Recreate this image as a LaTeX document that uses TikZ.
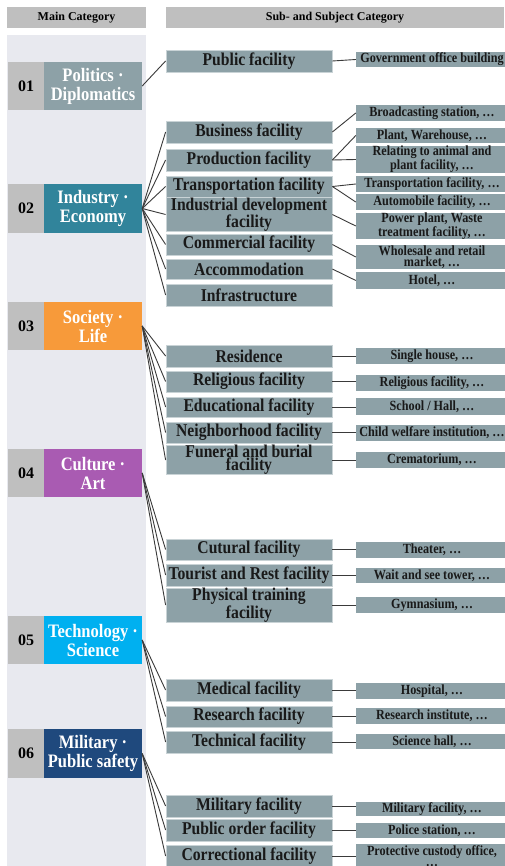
\documentclass[tikz,border=0pt]{standalone}
\usepackage{fontspec}
\setmainfont{Liberation Serif}
\newfontfamily\cmpfont[FakeStretch=0.87]{Liberation Serif}
\definecolor{panelc}{HTML}{E8E9EF}
\definecolor{hdrc}{HTML}{BFBFBF}
\definecolor{boxc}{HTML}{8DA1A7}
\definecolor{edgec}{HTML}{C9D3D6}
\definecolor{linec}{HTML}{3A3A3A}
\definecolor{cpol}{HTML}{8DA1A7}
\definecolor{cind}{HTML}{31849B}
\definecolor{csoc}{HTML}{F79A3A}
\definecolor{ccul}{HTML}{A95BB2}
\definecolor{ctec}{HTML}{00B0F0}
\definecolor{cmil}{HTML}{1F497D}
\tikzset{
  hdr/.style={fill=hdrc, inner sep=0pt, font=\bfseries\fontsize{12}{14}\selectfont},
  numb/.style={fill=hdrc, inner sep=0pt, font=\bfseries\fontsize{16}{18}\selectfont},
  mainc/.style={inner sep=0pt, text=white, align=center, font=\cmpfont\bfseries\fontsize{19}{19}\selectfont},
  subc/.style={fill=boxc, draw=edgec, line width=0.8pt, inner sep=0pt, align=center, text=black!90, font=\cmpfont\bfseries\fontsize{18}{13}\selectfont},
  leaf/.style={fill=boxc, inner sep=0pt, align=center, text=black!90, font=\cmpfont\bfseries\fontsize{14}{11}\selectfont},
  link/.style={draw=linec, line width=0.9pt},
}
\newcommand\placebox[7]{%
  \pgfmathsetmacro\pbx{(#3+#5)/2}%
  \pgfmathsetmacro\pby{(#4+#6)/2}%
  \pgfmathsetmacro\pbw{#5-#3}%
  \pgfmathsetmacro\pbh{#6-#4}%
  \node[#2, minimum width=\pbw pt, minimum height=\pbh pt] (#1) at (\pbx,\pby) {#7};}
\begin{document}
\begin{tikzpicture}[x=1pt,y=-1pt]
\useasboundingbox (0,0) rectangle (504,866);
\fill[white] (0,0) rectangle (504,866);
% panel
\fill[panelc] (7,35) rectangle (146,866);
% headers
\placebox{hmain}{hdr}{7}{7}{146}{28}{Main Category}
\placebox{hsub}{hdr}{166}{7}{504}{28}{Sub- and Subject Category}
% main categories
\placebox{n1}{numb}{8}{62}{44}{110}{01}
\placebox{m1}{mainc,fill=cpol}{44}{62}{142}{110}{Politics ·\\Diplomatics}
\placebox{n2}{numb}{8}{184}{44}{233}{02}
\placebox{m2}{mainc,fill=cind}{44}{184}{142}{233}{Industry ·\\Economy}
\placebox{n3}{numb}{8}{302}{44}{350}{03}
\placebox{m3}{mainc,fill=csoc}{44}{302}{142}{350}{Society ·\\Life}
\placebox{n4}{numb}{8}{449}{44}{497}{04}
\placebox{m4}{mainc,fill=ccul}{44}{449}{142}{497}{Culture ·\\Art}
\placebox{n5}{numb}{8}{616}{44}{664}{05}
\placebox{m5}{mainc,fill=ctec}{44}{616}{142}{664}{Technology ·\\Science}
\placebox{n6}{numb}{8}{729}{44}{778}{06}
\placebox{m6}{mainc,fill=cmil}{44}{729}{142}{778}{Military ·\\Public safety}
% sub categories
\placebox{s1}{subc}{166}{50}{332}{72}{Public facility}
\placebox{s21}{subc}{166}{121}{332}{143}{Business facility}
\placebox{s22}{subc}{166}{149}{332}{171}{Production facility}
\placebox{s23}{subc}{166}{176}{332}{197}{Transportation facility}
\placebox{s24}{subc}{166}{200}{332}{229}{Industrial development\\facility}
\placebox{s25}{subc}{166}{234}{332}{255}{Commercial facility}
\placebox{s26}{subc}{166}{259}{332}{279}{Accommodation}
\placebox{s27}{subc}{166}{284}{332}{306}{Infrastructure}
\placebox{s31}{subc}{166}{345}{332}{367}{Residence}
\placebox{s32}{subc}{166}{371}{332}{392}{Religious facility}
\placebox{s33}{subc}{166}{397}{332}{417}{Educational facility}
\placebox{s34}{subc}{166}{422}{332}{443}{Neighborhood facility}
\placebox{s35}{subc}{166}{447}{332}{473}{Funeral and burial\\facility}
\placebox{s41}{subc}{166}{539}{332}{560}{Cutural facility}
\placebox{s42}{subc}{166}{564}{332}{586}{Tourist and Rest facility}
\placebox{s43}{subc}{166}{591}{332}{619}{Physical training\\facility}
\placebox{s51}{subc}{166}{679}{332}{701}{Medical facility}
\placebox{s52}{subc}{166}{706}{332}{727}{Research facility}
\placebox{s53}{subc}{166}{731}{332}{753}{Technical facility}
\placebox{s61}{subc}{166}{795}{332}{817}{Military facility}
\placebox{s62}{subc}{166}{819}{332}{841}{Public order facility}
\placebox{s63}{subc}{166}{845}{332}{867}{Correctional facility}
% subject categories
\placebox{r1}{leaf}{356}{52}{508}{67}{Government office building}
\placebox{r21}{leaf}{356}{105}{508}{121}{Broadcasting station, …}
\placebox{r22}{leaf}{356}{128}{508}{143}{Plant, Warehouse, …}
\placebox{r23}{leaf}{356}{148}{508}{171}{Relating to animal and\\plant facility, …}
\placebox{r24}{leaf}{356}{176}{508}{192}{Transportation facility, …}
\placebox{r25}{leaf}{356}{194}{508}{210}{Automobile facility, …}
\placebox{r26}{leaf}{356}{214}{508}{238}{Power plant, Waste\\treatment facility, …}
\placebox{r27}{leaf}{356}{245}{508}{269}{Wholesale and retail\\market, …}
\placebox{r28}{leaf}{356}{272}{508}{289}{Hotel, …}
\placebox{r31}{leaf}{356}{348}{508}{364}{Single house, …}
\placebox{r32}{leaf}{356}{375}{508}{391}{Religious facility, …}
\placebox{r33}{leaf}{356}{398}{508}{415}{School / Hall, …}
\placebox{r34}{leaf}{356}{425}{508}{441}{Child welfare institution, …}
\placebox{r35}{leaf}{356}{452}{508}{468}{Crematorium, …}
\placebox{r41}{leaf}{356}{542}{508}{558}{Theater, …}
\placebox{r42}{leaf}{356}{568}{508}{583}{Wait and see tower, …}
\placebox{r43}{leaf}{356}{597}{508}{613}{Gymnasium, …}
\placebox{r51}{leaf}{356}{683}{508}{699}{Hospital, …}
\placebox{r52}{leaf}{356}{708}{508}{724}{Research institute, …}
\placebox{r53}{leaf}{356}{734}{508}{749}{Science hall, …}
\placebox{r61}{leaf}{356}{802}{508}{816}{Military facility, …}
\placebox{r62}{leaf}{356}{823}{508}{838}{Police station, …}
\placebox{r63}{leaf}{356}{844}{508}{868}{Protective custody office,\\…}
% main -> sub
\draw[link] (m1.east) -- (s1.west);
\foreach \s in {s21,s22,s23,s24,s25,s26,s27} \draw[link] (m2.east) -- (\s.west);
\foreach \s in {s31,s32,s33,s34,s35} \draw[link] (m3.east) -- (\s.west);
\foreach \s in {s41,s42,s43} \draw[link] (m4.east) -- (\s.west);
\foreach \s in {s51,s52,s53} \draw[link] (m5.east) -- (\s.west);
\foreach \s in {s61,s62,s63} \draw[link] (m6.east) -- (\s.west);
% sub -> subject
\draw[link] (s1.east) -- (r1.west);
\draw[link] (s21.east) -- (r21.west);
\draw[link] (s22.east) -- (r22.west);
\draw[link] (s22.east) -- (r23.west);
\draw[link] (s23.east) -- (r24.west);
\draw[link] (s23.east) -- (r25.west);
\draw[link] (s24.east) -- (r26.west);
\draw[link] (s25.east) -- (r27.west);
\draw[link] (s26.east) -- (r28.west);
\foreach \a/\b in {s31/r31,s32/r32,s33/r33,s34/r34,s35/r35,s41/r41,s42/r42,s43/r43,s51/r51,s52/r52,s53/r53,s61/r61,s62/r62,s63/r63}
  \draw[link] (\a.east) -- (\a.east -| \b.west);
\end{tikzpicture}
\end{document}
